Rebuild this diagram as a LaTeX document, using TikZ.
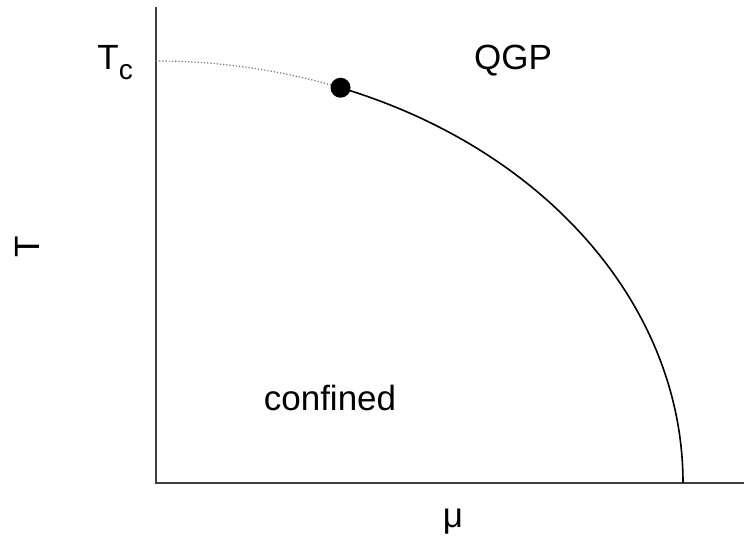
\documentclass[tikz,border=0pt]{standalone}
\usepackage{fontspec}
\setmainfont{Liberation Sans}
\usetikzlibrary{positioning,calc}

\begin{document}
\begin{tikzpicture}[x=0.5pt, y=0.5pt,
    every node/.style={font=\fontsize{17.5}{20}\selectfont, inner sep=0pt},
    axis/.style={line width=1.2pt, draw=black!75},
    crossover/.style={densely dotted, line width=0.6pt, draw=black!55},
    transition/.style={line width=0.8pt, draw=black},
    critpt/.style={circle, fill=black, minimum size=10pt}
]
% canvas, origin at the corner of the axes
\useasboundingbox[fill=white] (-156,-57) rectangle (588,483);

% Axes
\coordinate (orig) at (0,0);
\coordinate (ytop) at (0,476);
\coordinate (xend) at (588,0);
\draw[axis] (ytop) -- (orig) -- (xend);

% Phase boundary: crossover up to the critical point, then first order
\coordinate (tc) at (0,422);
\draw[crossover] (tc) arc[start angle=90, end angle=69.5, x radius=527, y radius=422]
    coordinate (cp);
\draw[transition] (cp) arc[start angle=69.5, end angle=0, x radius=527, y radius=422];
\node[critpt] (cep) at (cp) {};

% Labels
\node[anchor=base west] (tclab) at (-59,413)
    {T\raisebox{-5pt}{\fontsize{14}{14}\selectfont c}};
\node[rotate=90] (tlab) at (-129,236) {T};
\node (mulab) at (297,-39) {μ};
\node (qgp) at (357,422) {QGP};
\node (conf) at (174,85) {confined};
\end{tikzpicture}
\end{document}
